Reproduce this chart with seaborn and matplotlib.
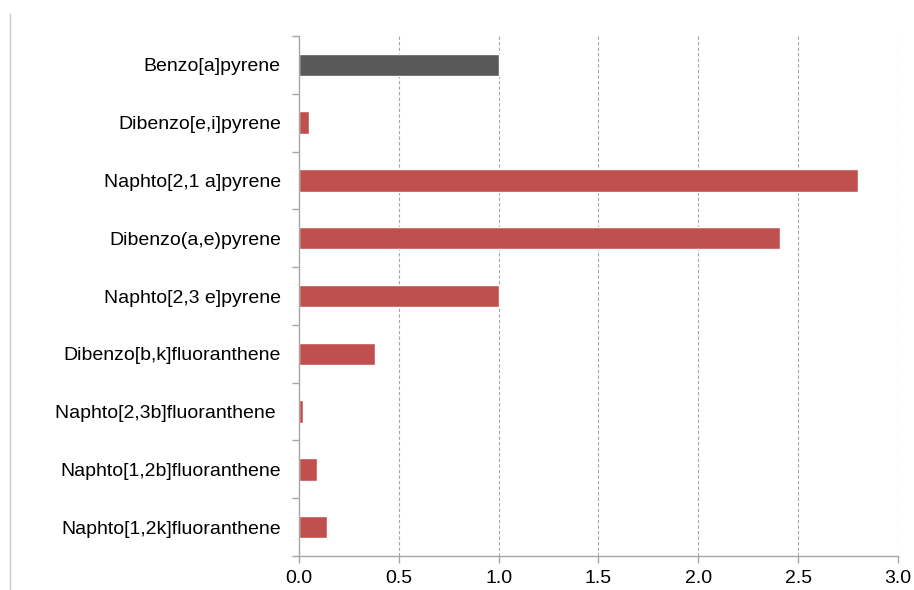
import pandas as pd
import matplotlib.pyplot as plt
import seaborn as sns
from matplotlib.lines import Line2D
from matplotlib.ticker import FixedLocator

# --- data ---
compounds = ['Benzo[a]pyrene', 'Dibenzo[e,i]pyrene', 'Naphto[2,1 a]pyrene',
             'Dibenzo(a,e)pyrene', 'Naphto[2,3 e]pyrene', 'Dibenzo[b,k]fluoranthene',
             'Naphto[2,3b]fluoranthene ', 'Naphto[1,2b]fluoranthene', 'Naphto[1,2k]fluoranthene']
values = [1.0, 0.05, 2.80, 2.41, 1.0, 0.38, 0.02, 0.09, 0.14]
x_ticks = [0.0, 0.5, 1.0, 1.5, 2.0, 2.5, 3.0]

df = pd.DataFrame({'compound': compounds, 'value': values})
colors = {c: '#C0504D' for c in compounds}
colors[compounds[0]] = '#595959'

sns.set_style('white')
plt.rcParams['font.family'] = ['Liberation Sans', 'DejaVu Sans']

fig = plt.figure(figsize=(9.14, 5.90), dpi=100)
ax = fig.add_axes([0.327, 0.0576, 0.6555, 0.8814])

sns.barplot(data=df, x='value', y='compound', hue='compound', palette=colors,
            legend=False, width=0.39, ax=ax, saturation=1)

ax.set_xlim(0, 3.0)
ax.set_ylim(8.5, -0.5)
ax.set_xticks(x_ticks)
ax.set_xticklabels([f'{t:.1f}' for t in x_ticks], fontsize=14, color='black')
ax.tick_params(axis='y', which='major', left=False, length=0, labelsize=14,
               labelcolor='black', pad=13)
ax.yaxis.set_minor_locator(FixedLocator([i - 0.5 for i in range(len(compounds) + 1)]))
ax.tick_params(axis='y', which='minor', left=True, length=5, color='#a6a6a6', width=1)
ax.tick_params(axis='x', bottom=True, length=5, color='#a6a6a6', width=1, pad=5)
ax.set_xlabel('')
ax.set_ylabel('')

for t in x_ticks[1:]:
    ax.axvline(t, color='#a6a6a6', linestyle=(0, (3, 2)), linewidth=0.8, zorder=0)

for s in ['top', 'right']:
    ax.spines[s].set_visible(False)
for s in ['left', 'bottom']:
    ax.spines[s].set_color('#a6a6a6')
    ax.spines[s].set_linewidth(1)

# thin border line on the left edge
fig.add_artist(Line2D([0.011, 0.011], [0.0, 0.976], color='#c8c8c8', linewidth=1))

fig.savefig('out.png', dpi=100)
